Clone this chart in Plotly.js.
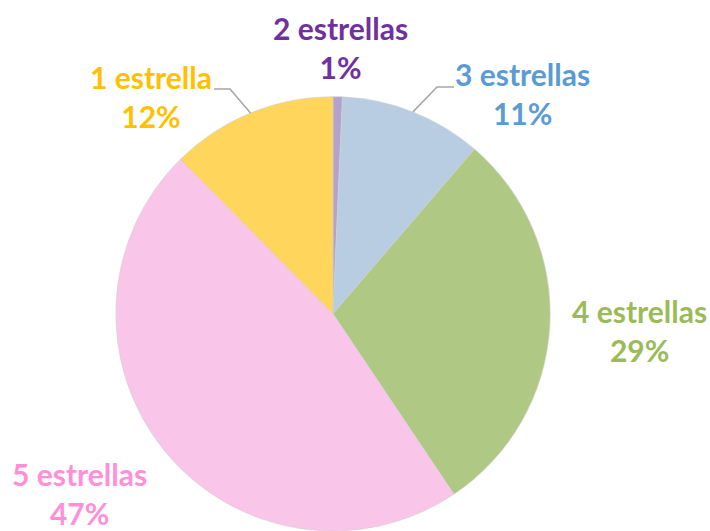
<!DOCTYPE html>
<html>
<head>
<meta charset="utf-8">
<script src="https://cdn.plot.ly/plotly-3.0.1.min.js"></script>
<style>
  html, body { margin: 0; padding: 0; background: #fff; }
  #chart { width: 710px; height: 531px; }
</style>
</head>
<body>
<div id="chart"></div>
<script>
// valoraciones por estrellas (porcentaje)
var etiquetas = ['2 estrellas', '3 estrellas', '4 estrellas', '5 estrellas', '1 estrella'];
var valores = [0.7, 10.6, 29.3, 47.0, 12.4];
var coloresSector = ['#b4a2cb', '#b8cde2', '#afc985', '#f9c6ea', '#ffd65b'];
var coloresTexto = ['#7030a0', '#5b9bd5', '#9bbb59', '#ff8fd8', '#ffc000'];

var W = 710, H = 531;
var dominio = { x: [0.162, 0.776], y: [0, 0.818] };

// centro y radio del pastel en pixeles (igual que calcula plotly con margen 0)
var cx = (dominio.x[0] + dominio.x[1]) / 2 * W;
var cy = H - (dominio.y[0] + dominio.y[1]) / 2 * H;
var radio = Math.min((dominio.x[1] - dominio.x[0]) * W, (dominio.y[1] - dominio.y[0]) * H) / 2;

// donde van los textos (centro de la etiqueta, en pixeles)
var posEtiquetas = [[340, 47], [522, 93], [639, 330], [79, 493], [151, 96]];
// lineas guia: solo para 3 estrellas y 1 estrella (codo y final)
var guias = { 1: [[437, 87], [454, 87]], 4: [[230, 89], [214, 89]] };

function px(x) { return x / W; }
function py(y) { return 1 - y / H; }

var total = valores.reduce(function(a, b) { return a + b; }, 0);
var annotations = [];
var shapes = [];
var acum = 0;
for (var i = 0; i < valores.length; i++) {
    var medio = (acum + valores[i] / 2) / total * 2 * Math.PI;
    acum += valores[i];
    var pct = Math.round(valores[i] / total * 100) + '%';

    annotations.push({
        xref: 'paper', yref: 'paper',
        x: px(posEtiquetas[i][0]), y: py(posEtiquetas[i][1]),
        xanchor: 'center', yanchor: 'middle',
        text: etiquetas[i] + '<br>' + pct,
        showarrow: false,
        font: { family: 'Lato, sans-serif', size: 30, color: coloresTexto[i], weight: 'bold' }
    });

    if (guias[i]) {
        var ex = cx + radio * Math.sin(medio);
        var ey = cy - radio * Math.cos(medio);
        var p = guias[i];
        shapes.push({
            type: 'path', xref: 'paper', yref: 'paper',
            path: 'M ' + px(ex) + ' ' + py(ey) + ' L ' + px(p[0][0]) + ' ' + py(p[0][1]) +
                  ' L ' + px(p[1][0]) + ' ' + py(p[1][1]),
            line: { color: '#a6a6a6', width: 1.5 }
        });
    }
}

var data = [{
    type: 'pie',
    labels: etiquetas,
    values: valores,
    sort: false,
    direction: 'clockwise',
    rotation: 0,
    marker: {
        colors: coloresSector,
        line: { color: '#d0d0d0', width: 0.6 }
    },
    textinfo: 'none',
    hoverinfo: 'label+percent',
    domain: dominio,
    automargin: false
}];

var layout = {
    width: W,
    height: H,
    margin: { l: 0, r: 0, t: 0, b: 0 },
    showlegend: false,
    paper_bgcolor: '#ffffff',
    annotations: annotations,
    shapes: shapes
};

Plotly.newPlot('chart', data, layout, { displayModeBar: false, staticPlot: true });
</script>
</body>
</html>
